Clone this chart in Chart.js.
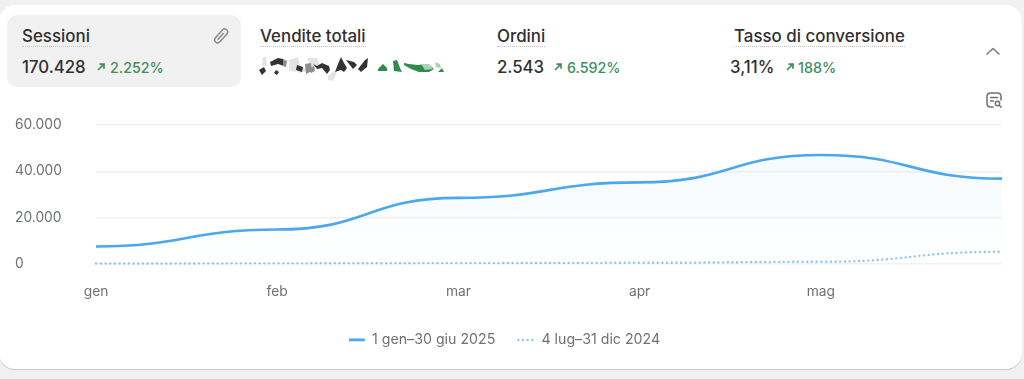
<!DOCTYPE html>
<html lang="it">
<head>
<meta charset="utf-8">
<title>Sessioni</title>
<script src="https://cdn.jsdelivr.net/npm/chart.js@4"></script>
<style>
html,body{margin:0;padding:0;width:1024px;height:379px;overflow:hidden;background:#f1f1f1;font-family:Inter,sans-serif}
#card{position:absolute;left:-1px;top:5px;width:1023px;height:364px;background:#fff;border-radius:16px;box-shadow:0 1px 1px rgba(0,0,0,.18)}
#tile{position:absolute;left:7px;top:15px;width:234px;height:72px;background:#f1f1f1;border-radius:10px}
.t{position:absolute;top:26px;font-size:16.9px;line-height:20px;font-weight:500;color:#303030;border-bottom:1.5px dotted #c4c4c4;white-space:nowrap}
.v{position:absolute;top:57px;font-size:16.8px;line-height:20px;font-weight:500;color:#303030;white-space:nowrap}
.d{position:absolute;top:59px;font-size:14.3px;line-height:18px;font-weight:500;color:#3c8f57;white-space:nowrap}
svg{position:absolute}
#wrap{position:absolute;left:0;top:108px;width:1002px;height:249px}
</style>
</head>
<body>
<div id="card"></div>
<div id="tile"></div>
<div class="t" style="left:22px">Sessioni</div>
<div class="t" style="left:260px">Vendite totali</div>
<div class="t" style="left:497px">Ordini</div>
<div class="t" style="left:734px">Tasso di conversione</div>
<div class="v" style="left:22px">170.428</div>
<div class="v" style="left:497px">2.543</div>
<div class="v" style="left:730px">3,11%</div>
<svg style="left:96px;top:62px" width="10" height="10" viewBox="0 0 10 10"><path d="M2 8L7.5 2.5M3.5 2.2H8V6.7" fill="none" stroke="#3c8f57" stroke-width="1.7"/></svg>
<div class="d" style="left:110px">2.252%</div>
<svg style="left:553px;top:62px" width="10" height="10" viewBox="0 0 10 10"><path d="M2 8L7.5 2.5M3.5 2.2H8V6.7" fill="none" stroke="#3c8f57" stroke-width="1.7"/></svg>
<div class="d" style="left:567px">6.592%</div>
<svg style="left:785px;top:62px" width="10" height="10" viewBox="0 0 10 10"><path d="M2 8L7.5 2.5M3.5 2.2H8V6.7" fill="none" stroke="#3c8f57" stroke-width="1.7"/></svg>
<div class="d" style="left:798px">188%</div>
<svg style="left:210px;top:25px" width="22" height="22" viewBox="0 0 22 22"><g transform="rotate(42 11 11)" fill="none" stroke="#8a8a8a" stroke-width="1.5" stroke-linejoin="round"><path d="M8 5.5a3 3 0 0 1 6 0V16a3 3 0 0 1-6 0z"/><path d="M11 7v9"/></g></svg>
<svg style="left:984px;top:44px" width="18" height="14" viewBox="0 0 18 14"><path d="M3 10L9 4.5L15 10" fill="none" stroke="#7a7a7a" stroke-width="1.6" stroke-linecap="round" stroke-linejoin="round"/></svg>
<svg style="left:984px;top:90px" width="20" height="20" viewBox="0 0 20 20"><path d="M9 17H6.5C4 17 3 16 3 13.5V6.5C3 4 4 3 6.5 3h7C16 3 17 4 17 6.5V10" fill="none" stroke="#6f6f6f" stroke-width="1.5" stroke-linecap="round"/><path d="M6.5 7.5h7M6.5 11h3" stroke="#6f6f6f" stroke-width="1.4" stroke-linecap="round"/><circle cx="13.5" cy="13.5" r="2.2" fill="none" stroke="#6f6f6f" stroke-width="1.4"/><path d="M15.2 15.2l2 2" stroke="#6f6f6f" stroke-width="1.4" stroke-linecap="round"/></svg>
<svg style="left:250px;top:50px;filter:blur(.7px)" width="205" height="32" viewBox="0 0 205 32">
<g fill="#e4e4e4"><path d="M13 7l3 0 1 9-5 0z"/><path d="M39 10l9-3 2 10-4 5-7-1z"/><path d="M57 8l10 0 3 8-8 2z"/><path d="M78 26l6-5 3 2-4 8-5-1z"/><path d="M48 19l8-1 2 3-10 2z"/></g>
<g fill="#333"><path d="M9 20l5-3 2 4-4 4z"/><path d="M20 12l8-4 5 1 1 7-6-2-7 2z"/><path d="M26 20l3 2-2 3-3-2z"/><path d="M47 15l6 2-1 5-6-2z"/><path d="M63 14l4 2 5-3 7 3 1 4-3 4-5-6-5 1z"/><path d="M85 22l3-8 3-7 3 6 3 5-3 4-3-2z"/><path d="M96 10l8 2 3 3-4 4z"/><path d="M108 19l7-9 3-2-1 9-6 5z"/></g>
<g fill="#8d8d8d"><path d="M33 9l4 2-1 6-3-1z"/><path d="M55 14l6-1 1 8-6 3z"/><path d="M59 19l5-3 1 5-4 2z"/></g>
<g fill="#2f8a50"><path d="M128 19l5-5 4 4 0 3-9 0z"/><path d="M143 11l4-1 3 8 2 4-8-1z"/><path d="M154 13l5 1 9 1 8-1 6 3 2 2-5 3-10 0-8-3-7-4z"/><path d="M188 22l4-4 2 4z"/></g>
<g fill="#a9d2b6"><path d="M171 14l8 0 4 5-8 1z"/><path d="M185 12l5 2 1 4-5-1z"/></g>
</svg>
<div id="wrap"><canvas id="c" width="1002" height="249"></canvas></div>
<script>
const categories = ['gen', 'feb', 'mar', 'apr', 'mag', 'giu'];
const hiddenTickLabels = ['giu'];
const currentLabel = '1 gen–30 giu 2025';
const previousLabel = '4 lug–31 dic 2024';
const currentValues = [7500, 14800, 28500, 35200, 47000, 36800];
const previousValues = [100, 200, 300, 430, 870, 5200];
const yTicks = [0, 20000, 40000, 60000];

const fillGradient = (ctx) => {
  const area = ctx.chart.chartArea;
  if (!area) return 'rgba(74,168,238,0.05)';
  const g = ctx.chart.ctx.createLinearGradient(0, area.top + 20, 0, area.bottom);
  g.addColorStop(0, 'rgba(74,168,238,0.06)');
  g.addColorStop(1, 'rgba(74,168,238,0)');
  return g;
};

// Horizontal-tangent ("bump") curve between data points, as in the reference.
const bumpCurve = {
  id: 'bumpCurve',
  afterLayout(chart) {
    chart.legend.left -= 4;
    chart.legend.right -= 4;
  },
  beforeDraw(chart) {
    chart.getSortedVisibleDatasetMetas().forEach((meta) => {
      const pts = meta.data;
      meta.dataset.updateControlPoints(chart.chartArea, 'x');
      pts.forEach((p, i) => {
        const prev = pts[i - 1], next = pts[i + 1];
        p.cp1x = prev ? (prev.x + p.x) / 2 : p.x; p.cp1y = p.y;
        p.cp2x = next ? (next.x + p.x) / 2 : p.x; p.cp2y = p.y;
      });
      meta.dataset._path = undefined;
    });
  }
};

new Chart(document.getElementById('c'), {
  type: 'line',
  plugins: [bumpCurve],
  data: {
    labels: categories,
    datasets: [
      { label: currentLabel, data: currentValues, borderColor: '#4aa8ee', borderWidth: 2.6,
        backgroundColor: fillGradient, fill: 'origin', pointRadius: 0, tension: 0.4, borderCapStyle: 'butt', clip: false },
      { label: previousLabel, data: previousValues, borderColor: '#8cc6f0', borderWidth: 2.4,
        borderDash: [0.01, 4.67], borderCapStyle: 'round', fill: false, pointRadius: 0, tension: 0.4, clip: false }
    ]
  },
  options: {
    responsive: false,
    animation: false,
    layout: { padding: { left: 15, right: 0, top: 17, bottom: 0 } },
    plugins: {
      tooltip: { enabled: false },
      legend: {
        position: 'bottom',
        labels: {
          usePointStyle: true, pointStyle: 'line', pointStyleWidth: 16, boxHeight: 12, padding: 23,
          color: '#6d7175', font: { family: 'Inter', size: 14.2 },
          generateLabels(chart) {
            return Chart.defaults.plugins.legend.labels.generateLabels(chart).map((item) => {
              const ds = chart.data.datasets[item.datasetIndex];
              return { ...item, strokeStyle: ds.borderColor, lineWidth: ds.borderWidth,
                lineDash: ds.borderDash || [], lineCap: ds.borderCapStyle };
            });
          }
        }
      }
    },
    scales: {
      x: {
        offset: false,
        grid: { display: false },
        border: { display: false },
        afterFit(s) { s.height = 46; },
        ticks: {
          color: '#6d7175', font: { family: 'Inter', size: 13.8 }, padding: 12, maxRotation: 0, autoSkip: false,
          callback(v) { const l = this.getLabelForValue(v); return hiddenTickLabels.includes(l) ? null : l; }
        }
      },
      y: {
        min: yTicks[0], max: yTicks[yTicks.length - 1],
        grid: { color: '#f1f1f1', lineWidth: 1.5, drawTicks: false },
        border: { display: false },
        afterFit(s) { s.width = 81; },
        afterBuildTicks(s) { s.ticks = yTicks.map((value) => ({ value })); },
        ticks: {
          color: '#6d7175', font: { family: 'Inter', size: 13.8 }, crossAlign: 'far', padding: 0,
          callback(v) { return String(v).replace(/(\d)(\d{3})$/, '$1.$2'); }
        }
      }
    }
  }
});
</script>
</body>
</html>
